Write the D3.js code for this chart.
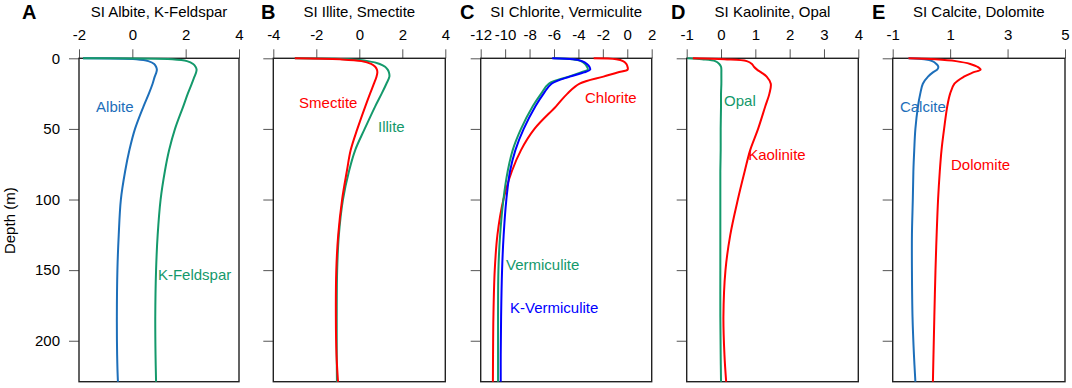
<!DOCTYPE html>
<html lang="en">
  <head>
    <meta charset="UTF-8" />
    <title>saturation-index-profiles</title>
    <style>
      body {
        margin: 0;
        background: #fff;
        font-family: Helvetica, Arial, "Liberation Sans", sans-serif;
      }
      svg {
        display: block;
      }
      .tick text {
        font-size: 15px;
        fill: #000;
      }
      .tick line {
        stroke: #555;
      }
      .frame {
        fill: none;
        stroke: #222;
        stroke-width: 1.4;
      }
      .title {
        font-size: 15px;
        text-anchor: middle;
      }
      .letter {
        font-size: 20px;
        font-weight: bold;
      }
      .series-label {
        font-size: 15px;
      }
    </style>
  </head>
  <body>
    <script src="https://cdn.jsdelivr.net/npm/d3@7"></script>
    <script>
      // depth grid (m) shared by every profile
      const depth = [0, 0.7, 2, 4, 6, 8, 10, 13, 18, 25, 34, 50, 65, 80, 100, 125, 150, 183, 210, 229];
      const depthTicks = [0, 50, 100, 150, 200];

      // saturation indices
      const albite = [-1.85, 0.15, 0.6, 0.82, 0.89, 0.92, 0.9, 0.84, 0.76, 0.62, 0.42, 0.1, -0.11, -0.27, -0.43, -0.51, -0.56, -0.58, -0.57, -0.54];
      const kFeldspar = [-1.85, 1.5, 2.05, 2.28, 2.37, 2.41, 2.39, 2.33, 2.23, 2.08, 1.91, 1.6, 1.38, 1.22, 1.06, 0.95, 0.89, 0.86, 0.87, 0.89];
      const smectite = [-3.0, -0.9, 0.1, 0.55, 0.74, 0.82, 0.84, 0.8, 0.68, 0.5, 0.28, -0.09, -0.4, -0.58, -0.8, -0.98, -1.07, -1.09, -1.06, -0.99];
      const illite = [-3.0, -0.5, 0.4, 0.95, 1.2, 1.32, 1.38, 1.4, 1.26, 1.04, 0.74, 0.25, -0.19, -0.48, -0.76, -0.95, -1.03, -1.05, -1.05, -1.04];
      const chlorite = [-2.75, -0.9, -0.35, -0.08, 0.02, 0.03, -0.8, -1.95, -3.9, -4.9, -5.83, -7.6, -8.7, -9.45, -10.14, -10.63, -10.85, -10.96, -10.99, -11.0];
      const vermiculite = [-6.05, -4.5, -3.8, -3.45, -3.3, -3.23, -3.8, -4.8, -6.43, -7.05, -7.74, -8.7, -9.38, -9.79, -10.14, -10.41, -10.55, -10.58, -10.58, -10.58];
      const kVermiculite = [-6.15, -4.4, -3.7, -3.3, -3.1, -3.04, -3.55, -4.7, -6.2, -6.85, -7.52, -8.48, -9.16, -9.6, -9.9, -10.12, -10.25, -10.33, -10.36, -10.36];
      const kaolinite = [-0.82, 0.1, 0.75, 0.9, 0.96, 1.05, 1.17, 1.33, 1.45, 1.41, 1.29, 1.08, 0.85, 0.69, 0.49, 0.27, 0.13, 0.07, 0.1, 0.15];
      const opal = [-0.98, -0.55, -0.17, -0.05, 0.0, 0.01, 0.01, 0.01, 0.01, 0.0, 0.0, -0.01, -0.01, -0.02, -0.02, -0.02, -0.02, -0.02, -0.01, 0.0];
      const calcite = [-0.45, 0.1, 0.38, 0.52, 0.59, 0.55, 0.4, 0.23, 0.05, -0.04, -0.12, -0.21, -0.25, -0.28, -0.3, -0.33, -0.33, -0.31, -0.26, -0.21];
      const dolomite = [-0.45, 0.5, 1.2, 1.7, 1.95, 2.06, 1.8, 1.48, 1.15, 1.0, 0.9, 0.79, 0.7, 0.64, 0.58, 0.53, 0.49, 0.45, 0.42, 0.4];

      // x tick labels per panel
      const ticksA = [-2, 0, 2, 4];
      const ticksB = [-4, -2, 0, 2, 4];
      const ticksC = [-12, -10, -8, -6, -4, -2, 0, 2];
      const ticksD = [-1, 0, 1, 2, 3, 4];
      const ticksE = [-1, 1, 3, 5];

      const blue = "#1d6fba";
      const green = "#14996b";
      const red = "#ff0000";
      const pureBlue = "#0000ff";

      const W = 1072;
      const H = 388;
      const plotTop = 58.3;
      const plotBottom = 381.7;

      const panels = [
        { letter: "A", letterX: 22, title: "SI Albite, K-Feldspar", left: 79, right: 239, domain: [-2, 4], ticks: ticksA,
          series: [
            { name: "Albite", values: albite, color: blue, at: [-1.36, 38] },
            { name: "K-Feldspar", values: kFeldspar, color: green, at: [0.96, 157] }
          ] },
        { letter: "B", letterX: 261, title: "SI Illite, Smectite", left: 273.3, right: 445.3, domain: [-4, 4], ticks: ticksB,
          series: [
            { name: "Illite", values: illite, color: green, at: [0.87, 52] },
            { name: "Smectite", values: smectite, color: red, at: [-2.8, 35] }
          ] },
        { letter: "C", letterX: 460, title: "SI Chlorite, Vermiculite", left: 480.7, right: 651.7, domain: [-12, 2], ticks: ticksC,
          series: [
            { name: "Chlorite", values: chlorite, color: red, at: [-3.46, 32] },
            { name: "Vermiculite", values: vermiculite, color: green, at: [-9.93, 150] },
            { name: "K-Vermiculite", values: kVermiculite, color: pureBlue, at: [-9.6, 180] }
          ] },
        { letter: "D", letterX: 671, title: "SI Kaolinite, Opal", left: 686.7, right: 858.3, domain: [-1, 4], ticks: ticksD,
          series: [
            { name: "Opal", values: opal, color: green, at: [0.09, 34] },
            { name: "Kaolinite", values: kaolinite, color: red, at: [0.79, 72] }
          ] },
        { letter: "E", letterX: 872, title: "SI Calcite, Dolomite", left: 892.7, right: 1065, domain: [-1, 5], ticks: ticksE,
          series: [
            { name: "Calcite", values: calcite, color: blue, at: [-0.75, 38] },
            { name: "Dolomite", values: dolomite, color: red, at: [1.03, 79] }
          ] }
      ];

      const svg = d3.select("body").append("svg").attr("width", W).attr("height", H);

      const y = d3.scaleLinear().domain([0, 229]).range([plotTop, plotBottom]);

      panels.forEach((p, i) => {
        const x = d3.scaleLinear().domain(p.domain).range([p.left, p.right]);
        const g = svg.append("g");

        // top axis
        const xAxis = g.append("g")
          .attr("transform", `translate(0,${plotTop})`)
          .call(d3.axisTop(x).tickValues(p.ticks).tickSize(9).tickPadding(9).tickFormat(d => String(d)));
        xAxis.select(".domain").remove();

        // left axis, labels only on the first panel
        const yAxis = g.append("g")
          .attr("transform", `translate(${p.left},0)`)
          .call(d3.axisLeft(y).tickValues(depthTicks).tickSize(10).tickPadding(9)
            .tickFormat(i === 0 ? d => String(d) : () => ""));
        yAxis.select(".domain").remove();

        g.append("rect")
          .attr("class", "frame")
          .attr("x", p.left)
          .attr("y", plotTop)
          .attr("width", p.right - p.left)
          .attr("height", plotBottom - plotTop);

        const line = d3.line()
          .x(d => x(d[1]))
          .y(d => y(d[0]))
          .curve(d3.curveCatmullRom.alpha(0.5));

        p.series.forEach(s => {
          g.append("path")
            .datum(depth.map((d, k) => [d, s.values[k]]))
            .attr("fill", "none")
            .attr("stroke", s.color)
            .attr("stroke-width", 2)
            .attr("d", line);

          g.append("text")
            .attr("class", "series-label")
            .attr("x", x(s.at[0]))
            .attr("y", y(s.at[1]))
            .attr("fill", s.color)
            .text(s.name);
        });

        g.append("text")
          .attr("class", "title")
          .attr("x", (p.left + p.right) / 2)
          .attr("y", 16.5)
          .text(p.title);

        g.append("text")
          .attr("class", "letter")
          .attr("x", p.letterX)
          .attr("y", 18.5)
          .text(p.letter);
      });

      svg.append("text")
        .attr("transform", `translate(15,${y(115)}) rotate(-90)`)
        .attr("text-anchor", "middle")
        .style("font-size", "15px")
        .text("Depth (m)");
    </script>
  </body>
</html>
